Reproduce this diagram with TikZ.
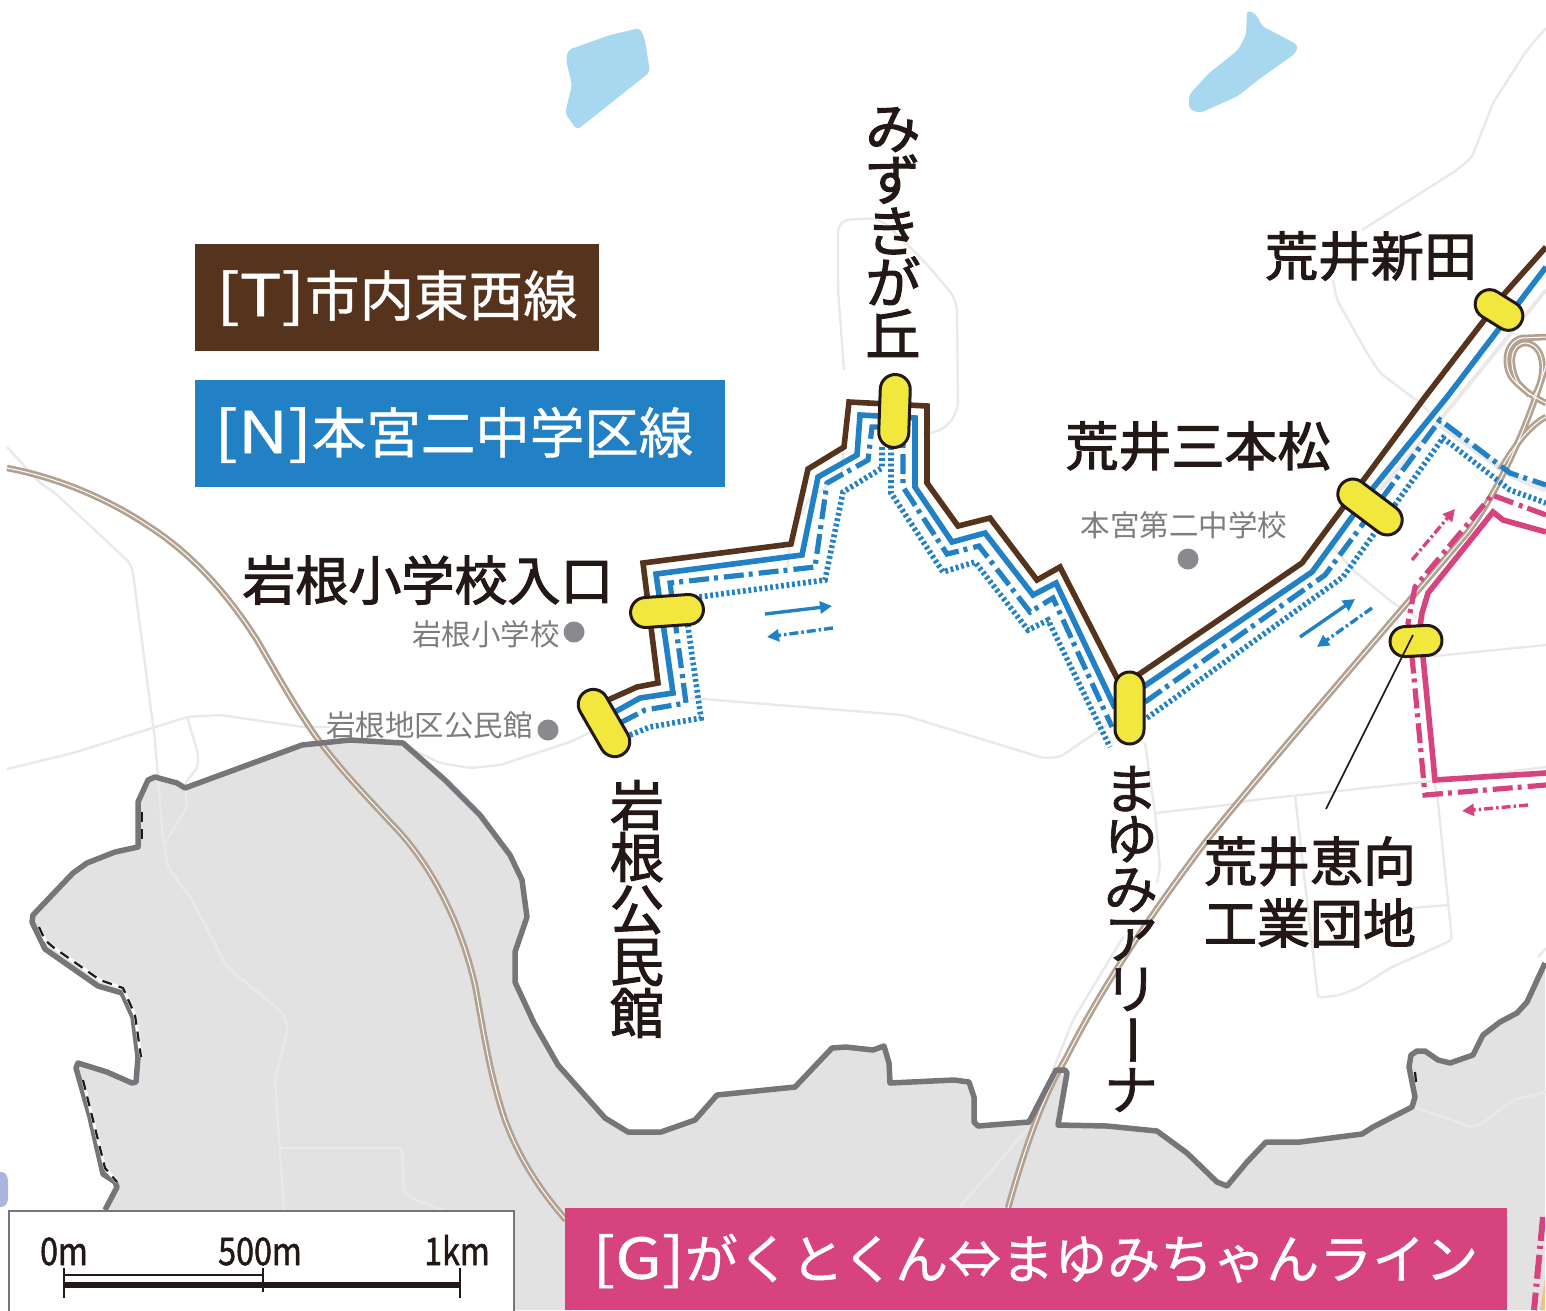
\documentclass[tikz,border=0pt]{standalone}
\usepackage{fontspec}
\usetikzlibrary{arrows.meta,shapes.misc}
\newfontfamily\cjk{Noto Sans CJK JP}
\newfontfamily\cjkb{Noto Sans CJK JP}[FakeBold=0.8]
\newfontfamily\cjkm{Noto Sans CJK JP}[FakeBold=2]
\newfontfamily\cjkh{Noto Sans CJK JP}[FakeBold=1.2]
\newfontfamily\cjkn{Noto Sans CJK JP}[FakeStretch=0.85,FakeBold=1.2]
\definecolor{ink}{HTML}{231815}
\definecolor{brownline}{HTML}{55331C}
\definecolor{blueline}{HTML}{2280C4}
\definecolor{pinkline}{HTML}{D6437E}
\definecolor{roadgray}{HTML}{E9E9E9}
\definecolor{areagray}{HTML}{E2E2E2}
\definecolor{bordergray}{HTML}{76767A}
\definecolor{tanroad}{HTML}{B3A291}
\definecolor{lake}{HTML}{A8D8F0}
\definecolor{pillfill}{HTML}{F1E73D}
\definecolor{graytext}{HTML}{7D7D80}
\definecolor{dotgray}{HTML}{8A8A8E}
\definecolor{orangeband}{HTML}{F3C185}
\definecolor{lilac}{HTML}{AAB4DC}
\newcommand{\areaborder}{(105,1210)--(117,1187)--(115,1182)--(103,1174)--(90,1117)--(76,1068)--(78,1063)--(107,1072)--(132,1083)--(136,1082)--(138,1057)--(133,1017)--(122,993)--(98,986)--(45,949)--(32,922)--(33,915)--(73,873)--(87,863)--(115,852)--(138,847)--(138,802)--(148,780)--(155,777)--(177,783)--(185,788)--(302,745)--(350,740)--(403,743)--(445,780)--(480,815)--(510,855)--(522,880)--(527,917)--(515,952)--(515,982)--(534,1023)--(558,1065)--(605,1118)--(628,1132)--(661,1132)--(695,1120)--(717,1095)--(795,1087)--(832,1048)--(846,1047)--(873,1050)--(884,1046)--(889,1063)--(890,1083)--(954,1080)--(969,1082)--(974,1097)--(974,1122)--(978,1126)--(1029,1122)--(1056,1070)--(1065,1070)--(1067,1073)--(1058,1125)--(1107,1126)--(1157,1131)--(1187,1153)--(1217,1182)--(1227,1186)--(1247,1162)--(1266,1142)--(1300,1142)--(1362,1134)--(1373,1127)--(1412,1107)--(1415,1097)--(1409,1067)--(1411,1055)--(1417,1051)--(1425,1051)--(1438,1060)--(1450,1063)--(1473,1055)--(1483,1035)--(1500,1022)--(1517,1013)--(1527,1002)--(1545,963)}
\newcommand{\latinpart}[1]{\scalebox{1.28}[1.06]{#1}}
\tikzset{
  x=1pt,y=-1pt,
  road/.style={draw=roadgray,line width=2.4pt,line join=round,rounded corners=4pt},
  xway/.style={draw=tanroad,line width=6.5pt,line join=round},
  xwayin/.style={draw=white,line width=1pt,line join=round},
  trunk/.style={line width=5.6pt,line join=miter},
  dashdot/.style={line width=5.2pt,dash pattern=on 20pt off 5pt on 4pt off 6pt},
  dots/.style={line width=5.6pt,dash pattern=on 2.8pt off 2.7pt},
  arrsolid/.style={line width=3.4pt,-{Triangle[length=12pt,width=12pt]}},
  arrdash/.style={line width=3.4pt,dash pattern=on 9pt off 3pt on 2.5pt off 3pt,-{Triangle[length=12pt,width=12pt]}},
  pill/.style={rounded rectangle,draw=ink,line width=3pt,fill=pillfill,inner sep=0pt,minimum height=30pt},
  stoplab/.style={text=ink,font=\cjkm\fontsize{53}{53}\selectfont,inner sep=0pt,align=center},
  minorlab/.style={text=graytext,font=\cjk\fontsize{29.5}{30}\selectfont,inner sep=0pt},
  banner/.style={text=white,font=\cjkb\fontsize{54.5}{54}\selectfont,inner sep=0pt,anchor=west},
  scalelab/.style={text=ink,font=\cjkn\fontsize{38}{38}\selectfont,inner sep=0pt,anchor=base},
  scaleline/.style={draw=ink,line width=1.8pt},
  spot/.style={circle,fill=dotgray,inner sep=0pt,minimum size=21pt},
  limitw/.style={white,line width=3pt},
  limitk/.style={ink,line width=2.2pt,dash pattern=on 10pt off 7pt}
}
\begin{document}
\begin{tikzpicture}
\useasboundingbox (0,0) rectangle (1546,1310);
% lakes
\fill[lake,rounded corners=4pt] (568,50)--(610,35)--(640,28)--(645,40)--(650,72)--(577,130)--(565,113)--(572,85)--(566,60)--cycle;
\fill[lake,rounded corners=4pt] (1247,10)--(1256,14)--(1262,26)--(1298,45)--(1296,53)--(1258,80)--(1238,96)--(1200,113)--(1189,109)--(1189,95)--(1208,74)--(1238,50)--(1246,35)--cycle;
% administrative area
\fill[areagray] \areaborder--(1545,1310)--(105,1310)--cycle;
\fill[lilac,rounded corners=3pt] (-5,1172)--(5,1172)--(8,1178)--(8,1202)--(4,1207)--(-5,1207)--cycle;
% roads
\draw[road] (7,447)--(40,483)--(55,493)--(130,563)--(133,573)--(155,740)--(163,840)--(168,867)--(192,900)--(227,967)--(283,1013)--(288,1027)--(275,1080)--(284,1210);
\draw[road] (280,1148)--(402,1148)--(404,1192)--(411,1198)--(443,1210);
\draw[road] (7,769)--(73,753)--(187,717)--(220,715)--(303,727)--(330,727);
\draw[road] (187,717)--(198,753)--(198,767)--(185,783)--(187,807)--(165,843);
\draw[road] (403,745)--(440,763)--(470,768)--(500,765)--(570,742)--(612,722);
\draw[road] (690,698)--(903,715)--(1043,758)--(1060,757)--(1107,725);
\draw[road,rounded corners=12pt] (844,370)--(838,290)--(838,220)--(880,218)--(925,262)--(957,300)--(958,413)--(940,433)--(923,433);
\draw[road] (843,450)--(842,475)--(808,500)--(790,540)--(788,567);
\draw[road] (1546,28)--(1527,50)--(1493,103)--(1472,157)--(1457,170)--(1362,230);
\draw[road] (1333,280)--(1337,300)--(1367,353)--(1380,373)--(1420,403)--(1437,420);
\draw[road,line width=5.5pt] (1440,425)--(1510,475)--(1546,490);
\draw[road,line width=4pt] (1380,490)--(1440,420)--(1546,290);
\draw[road] (1333,547)--(1353,570)--(1393,603)--(1417,617);
\draw[road] (1425,657)--(1546,645);
\draw[road] (1145,743)--(1155,813)--(1160,867)--(1157,883);
\draw[road] (1155,813)--(1227,805)--(1253,800)--(1423,782)--(1546,767);
\draw[road] (1295,795)--(1318,998)--(1340,995)--(1360,987)--(1390,968)--(1452,940)--(1437,793)--(1430,770);
\draw[road] (1413,908)--(1448,905);
\draw[road] (1053,1070)--(1073,1020)--(1123,937);
\draw[road] (1029,1127)--(960,1207);
\draw[road] (1415,1107)--(1470,1127)--(1480,1125)--(1513,1100)--(1546,1092);
\draw[road] (1538,957)--(1546,948);
% expressways
\foreach \st in {xway,xwayin}{
  \draw[\st] (7,468) .. controls (60,478) and (110,500) .. (150,527) .. controls (190,553) and (225,590) .. (257,640) .. controls (280,680) and (300,715) .. (320,742) .. controls (345,775) and (370,800) .. (390,822) .. controls (430,862) and (460,920) .. (475,985) .. controls (485,1040) and (490,1075) .. (505,1120) .. controls (520,1160) and (540,1190) .. (566,1220);
  \draw[\st] (1008,1208) .. controls (1020,1165) and (1040,1100) .. (1065,1060) .. controls (1100,990) and (1150,915) .. (1207,840) .. controls (1270,762) and (1380,635) .. (1467,533) .. controls (1500,490) and (1530,420) .. (1546,365);
  \draw[\st] (1546,337)--(1522,338) .. controls (1505,342) and (1503,365) .. (1512,378) .. controls (1520,388) and (1535,398) .. (1546,403);
  \draw[\st] (1533,398) .. controls (1548,375) and (1545,345) .. (1526,343) .. controls (1510,343) and (1508,365) .. (1518,383)--(1530,395);
  \draw[\st] (1500,470) .. controls (1515,445) and (1530,425) .. (1546,417);
}
% area border
\draw[bordergray,line width=5.5pt,line join=round] \areaborder;
% outer limit beside the border
\draw[limitw] (39,927)--(45,940)--(53,947)--(100,980)--(123,988)--(135,1015)--(141,1057);
\draw[limitk] (39,927)--(45,940)--(53,947)--(100,980)--(123,988)--(135,1015)--(141,1057);
\draw[limitw] (83,1080)--(100,1148)--(105,1168)--(117,1182);
\draw[limitk] (83,1080)--(100,1148)--(105,1168)--(117,1182);
\draw[limitk] (142,812)--(142,842);
\draw[limitk] (1415,1072)--(1416,1082);
% right-edge route fragment
\fill[orangeband] (1546,1272)--(1540,1310)--(1546,1310)--cycle;
\draw[pinkline,line width=6pt,dash pattern=on 24pt off 5pt on 3pt off 6pt] (1543,1217)--(1534,1310);
\fill[white] (1545,1200) rectangle (1546,1310);
% T line
\draw[brownline,trunk] (608,700)--(637,687)--(658,683)--(643,563)--(791,544)--(808,469)--(844,447)--(849,402)--(927,406)--(927,483)--(958,526)--(990,518)--(1037,580)--(1060,567)--(1118,680);
\draw[brownline,trunk] (1138,675)--(1302,563)--(1362,482)--(1425,397)--(1505,293)--(1546,247);
% N line, solid
\draw[blueline,trunk] (613,713)--(640,698)--(673,693)--(656,574)--(802,555)--(818,477)--(857,455)--(860,415)--(915,418)--(915,487)--(952,542)--(985,533)--(1033,595)--(1056,583)--(1115,708);
\draw[blueline,trunk] (1143,687)--(1312,572)--(1373,488)--(1447,397)--(1546,267);
% N line, dash-dot
\draw[blueline,dashdot] (620,723)--(645,710)--(686,703)--(670,583)--(815,567)--(827,483)--(868,460)--(872,427)--(903,427)--(903,487)--(947,554)--(979,546)--(1030,612)--(1053,598)--(1112,727);
\draw[blueline,dashdot] (1145,702)--(1325,575)--(1440,420)--(1510,473)--(1546,485);
% N line, dotted
\draw[blueline,dots] (630,735)--(650,727)--(701,718)--(684,599)--(825,580)--(843,492)--(882,468)--(882,447);
\draw[blueline,dots] (891,447)--(891,493)--(943,572)--(975,562)--(1028,630)--(1048,620)--(1110,747);
\draw[blueline,dots] (1147,718)--(1343,577)--(1443,438)--(1510,490)--(1546,503);
% G line
\draw[pinkline,trunk] (1546,532)--(1503,520)--(1493,512)--(1428,593)--(1422,613)--(1418,640)--(1423,657)--(1435,780)--(1546,773);
\draw[pinkline,dashdot] (1546,515)--(1492,495)--(1415,587)--(1408,623)--(1412,657)--(1425,795)--(1546,785);
% direction arrows
\draw[blueline,arrsolid] (765,614)--(832,606);
\draw[blueline,arrdash] (833,628)--(767,637);
\draw[blueline,arrsolid] (1300,637)--(1355,599);
\draw[blueline,arrdash] (1372,608)--(1317,647);
\draw[pinkline,arrdash] (1412,560)--(1455,509);
\draw[pinkline,arrdash] (1528,805)--(1462,811);
% stops
\node[pill,minimum width=73pt,rotate=-60] (kominkan) at (604,723) {};
\node[pill,minimum width=73pt,rotate=4] (shogakko) at (667,611) {};
\node[pill,minimum width=73pt,minimum height=30pt,rotate=88] (mizukigaoka) at (894.5,411) {};
\node[pill,minimum width=72pt,minimum height=29pt,rotate=90] (mayumi) at (1129.5,708) {};
\node[pill,minimum width=73pt,rotate=-37] (sanbonmatsu) at (1370,507) {};
\node[pill,minimum width=51pt,minimum height=29pt,rotate=-32] (shinden) at (1499,310) {};
\node[pill,minimum width=52pt,rotate=3] (eko) at (1416,641) {};
\coordinate (ekoend) at (1326,809);
\coordinate (ekotip) at (1413,635);
\draw[ink,line width=1.7pt] (ekotip)--(ekoend);
% stop names
\node[stoplab,font=\cjkm\fontsize{55}{51.5}\selectfont] (lbmizuki) at (893,232) {み\\ず\\き\\が\\丘};
\node[stoplab,font=\cjkm\fontsize{54}{52}\selectfont] (lbkominkan) at (637,909) {岩\\根\\公\\民\\館};
\node[stoplab,font=\cjkh\fontsize{54}{50}\selectfont] (lbmayumi) at (1131,939) {ま\\ゆ\\み\\ア\\リ\\\raisebox{7pt}{\rotatebox[origin=c]{-90}{ー}}\rule{14pt}{0pt}\\ナ};
\node[stoplab] (lbshogakko) at (428,580) {岩根小学校入口};
\node[stoplab] (lbsanbon) at (1198,446) {荒井三本松};
\node[stoplab] (lbshinden) at (1371,256) {荒井新田};
\node[stoplab,font=\cjkm\fontsize{53}{62}\selectfont] (lbeko) at (1310,892) {荒井恵向\\工業団地};
% minor places
\node[minorlab,anchor=east] (lbiwane) at (560,634) {岩根小学校};
\node[spot] (ptiwane) at (574,632) {};
\node[minorlab,anchor=east] (lbchiku) at (533,725) {岩根地区公民館};
\node[spot] (ptchiku) at (548,730) {};
\node[minorlab] (lbhongu) at (1184,525) {本宮第二中学校};
\node[spot] (pthongu) at (1188,559) {};
% banners
\fill[brownline] (195,244) rectangle (599,351);
\node[banner] (bnT) at (216,298) {\latinpart{[T]}市内東西線};
\fill[blueline] (195,380) rectangle (725,487);
\node[banner] (bnN) at (214,435) {\latinpart{[N]}本宮二中学区線};
\fill[pinkline] (565,1208) rectangle (1507,1310);
\node[banner,font=\cjkb\fontsize{53}{53}\selectfont] (bnG) at (592,1261) {\latinpart{[G]}がくとくん⇔まゆみちゃんライン};
% scale bar
\draw[draw=bordergray,fill=white,line width=2pt] (9,1211) rectangle (514,1325);
\coordinate (sa) at (64,1285);
\coordinate (sb) at (263,1285);
\coordinate (sc) at (460,1285);
\draw[scaleline,line width=6pt] (sa)--(sc);
\draw[scaleline] (64,1275)--(263,1275);
\draw[scaleline] (64,1268)--(64,1298);
\draw[scaleline] (263,1268)--(263,1292);
\draw[scaleline] (460,1268)--(460,1298);
\node[scalelab] (s0) at (64,1265) {0m};
\node[scalelab] (s500) at (260,1265) {500m};
\node[scalelab] (s1k) at (457,1265) {1km};
\end{tikzpicture}
\end{document}
